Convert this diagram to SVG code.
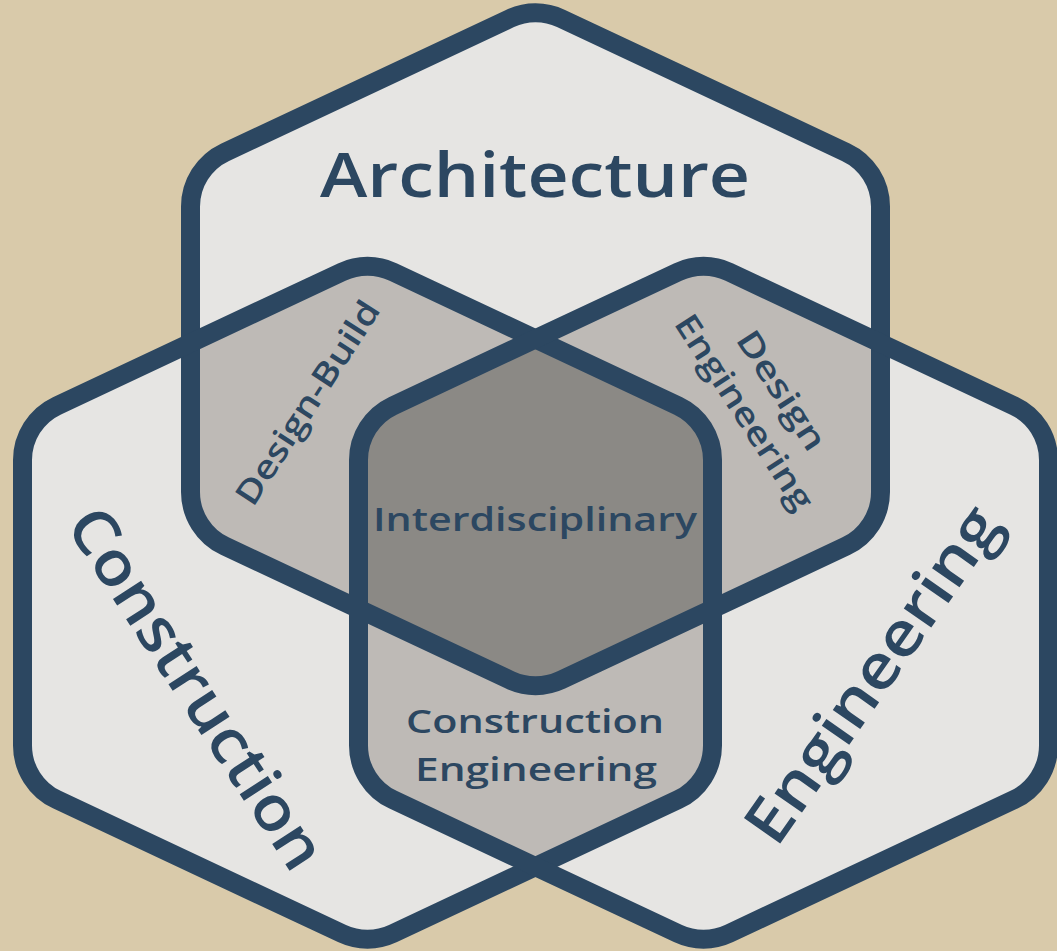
<svg xmlns="http://www.w3.org/2000/svg" width="1057" height="951" viewBox="0 0 1057 951">
<style>
.hexfill{fill:#E6E5E3}
.ov2{fill:#BEBAB6}
.ov3{fill:#8B8985}
.hexline{fill:none;stroke:#2C4761;stroke-width:19}
.big{font-family:"Open Sans","Liberation Sans",sans-serif;font-weight:600;fill:#2C4761;text-anchor:middle}
.small{font-family:"Open Sans","Liberation Sans",sans-serif;font-weight:600;fill:#2C4761;text-anchor:middle;font-size:33px}
</style>
<defs>
<path id="hA" d="M509.98,18.5 A60 60 0 0 1 561.02,18.5 L846.04,152.3 A60 60 0 0 1 880.5,206.58 L880.5,491.92 A60 60 0 0 1 846.04,546.2 L561.02,680 A60 60 0 0 1 509.98,680 L224.96,546.2 A60 60 0 0 1 190.5,491.92 L190.5,206.58 A60 60 0 0 1 224.96,152.3 Z"/>
<path id="hC" d="M341.98,272 A60 60 0 0 1 393.02,272 L678.04,405.8 A60 60 0 0 1 712.5,460.08 L712.5,745.42 A60 60 0 0 1 678.04,799.7 L393.02,933.5 A60 60 0 0 1 341.98,933.5 L56.96,799.7 A60 60 0 0 1 22.5,745.42 L22.5,460.08 A60 60 0 0 1 56.96,405.8 Z"/>
<path id="hE" d="M677.98,272 A60 60 0 0 1 729.02,272 L1014.04,405.8 A60 60 0 0 1 1048.5,460.08 L1048.5,745.42 A60 60 0 0 1 1014.04,799.7 L729.02,933.5 A60 60 0 0 1 677.98,933.5 L392.96,799.7 A60 60 0 0 1 358.5,745.42 L358.5,460.08 A60 60 0 0 1 392.96,405.8 Z"/>
<clipPath id="cA"><use href="#hA"/></clipPath>
<clipPath id="cC"><use href="#hC"/></clipPath>
<clipPath id="cE"><use href="#hE"/></clipPath>
</defs>
<rect width="1057" height="951" fill="#D9CAAA"/>
<g id="fills">
<use href="#hA" class="hexfill"/>
<use href="#hC" class="hexfill"/>
<use href="#hE" class="hexfill"/>
<use href="#hC" class="ov2" clip-path="url(#cA)"/>
<use href="#hE" class="ov2" clip-path="url(#cA)"/>
<use href="#hE" class="ov2" clip-path="url(#cC)"/>
<g clip-path="url(#cA)"><use href="#hE" class="ov3" clip-path="url(#cC)"/></g>
</g>
<g id="architecture"><use href="#hA" class="hexline"/>
<text class="big" x="535" y="197" font-size="62" textLength="430" lengthAdjust="spacingAndGlyphs">Architecture</text></g>
<g id="construction"><use href="#hC" class="hexline"/>
<text class="big" font-size="62" transform="translate(197,688) rotate(57)" y="22" textLength="418" lengthAdjust="spacingAndGlyphs">Construction</text></g>
<g id="engineering"><use href="#hE" class="hexline"/>
<text class="big" font-size="62" transform="translate(872,674) rotate(-55)" y="22" textLength="396" lengthAdjust="spacingAndGlyphs">Engineering</text></g>
<g id="design-build"><text class="small" transform="translate(308,403) rotate(-57)" y="11" textLength="236" lengthAdjust="spacingAndGlyphs">Design-Build</text></g>
<g id="design-engineering"><text class="small" transform="translate(760,402) rotate(57)"><tspan x="2" y="-13" textLength="136" lengthAdjust="spacingAndGlyphs">Design</tspan><tspan x="0" y="30" textLength="226" lengthAdjust="spacingAndGlyphs">Engineering</tspan></text></g>
<g id="interdisciplinary"><text class="small" x="535" y="531" textLength="324" lengthAdjust="spacingAndGlyphs">Interdisciplinary</text></g>
<g id="construction-engineering"><text class="small" x="535" y="733" textLength="258" lengthAdjust="spacingAndGlyphs">Construction</text><text class="small" x="536" y="781" textLength="242" lengthAdjust="spacingAndGlyphs">Engineering</text></g>
</svg>
